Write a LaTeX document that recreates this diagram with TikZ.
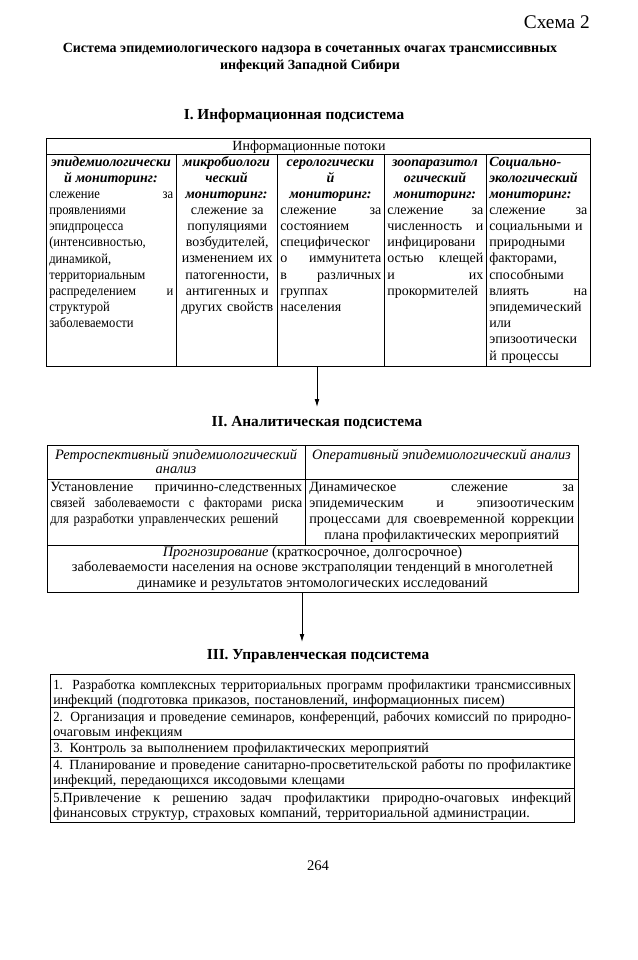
\documentclass[tikz,border=0pt]{standalone}
\usepackage{fontspec}
\setmainfont{Liberation Serif}
\newfontfamily\narrowfont{Liberation Serif}[FakeStretch=0.9]
\newfontfamily\tightfont{Liberation Serif}[FakeStretch=0.96]
\usetikzlibrary{arrows.meta}

\newcommand{\cellfont}{\fontsize{10.5}{12.15}\selectfont}
\newcommand{\jline}[1]{\leavevmode\hbox to\hsize{\spaceskip=0pt\xspaceskip=0pt\strut#1}}

\begin{document}
\begin{tikzpicture}[x=0.75pt, y=-0.75pt,
  frame/.style={line width=0.7pt},
  tablebox/.style={draw, line width=0.7pt, inner sep=0pt},
  arr/.style={-{Latex[length=6pt,width=3.6pt]}, line width=0.7pt},
  head/.style={anchor=base, inner sep=0pt, font=\fontsize{11.5}{14}\selectfont\bfseries},
  colhead/.style={anchor=north, inner sep=0pt, align=center, font=\cellfont\bfseries\itshape},
  cell/.style={anchor=north west, inner sep=0pt, align=left, font=\cellfont},
  rowcell/.style={anchor=north west, inner sep=0pt, align=left, text width=388.5pt, font=\fontsize{10.5}{11.25}\selectfont}
]
\useasboundingbox (0,0) rectangle (638,960);

\node[anchor=base east, inner sep=0pt, font=\fontsize{14.5}{17}\selectfont] (scheme) at (590,28) {Схема 2};
\node[anchor=north, inner sep=0pt, align=center, font=\fontsize{10.5}{12.75}\selectfont\bfseries] (title) at (310,40.1)
  {\strut Система эпидемиологического надзора в сочетанных очагах трансмиссивных\\инфекций Западной Сибири};

% I. information subsystem
\node[head] (h-info) at (294,119) {I. Информационная подсистема};
\node[tablebox, minimum width=408pt, minimum height=171pt] (info) at (318,252) {};
\draw[frame] (46,154) -- (590,154);
\foreach \x in {176,277,384,486}
  \draw[frame] (\x,154) -- (\x,366);
\node[anchor=base, inner sep=0pt, font=\cellfont] (flows) at (309,150) {Информационные потоки};

\node[colhead] (epi-h) at (111,154.7) {\strut эпидемиологически\\й мониторинг:};
\node[cell, text width=93pt, font=\cellfont\narrowfont] (epi-b) at (49,186.7)
  {\jline{слежение\hfill за}\\проявлениями\\эпидпроцесса\\(интенсивностью,\\динамикой,\\территориальным\\\jline{распределением\hfill и}\\структурой\\заболеваемости};

\node[colhead] (micro-h) at (226.5,154.7) {\strut микробиологи\\ческий\\мониторинг:};
\node[cell, align=center, text width=75.75pt] (micro-b) at (176.5,202.7)
  {\strut слежение за\\популяциями\\возбудителей,\\изменением их\\патогенности,\\антигенных и\\других свойств};

\node[colhead] (sero-h) at (330.5,154.7) {\strut серологически\\й\\мониторинг:};
\node[cell, text width=75.75pt] (sero-b) at (280,202.7)
  {\jline{слежение\hfill за}\\состоянием\\специфическог\\\jline{о\hfill иммунитета}\\\jline{в\hfill различных}\\группах\\населения};

\node[colhead] (zoo-h) at (435,154.7) {\strut зоопаразитол\\огический\\мониторинг:};
\node[cell, text width=72pt] (zoo-b) at (387,202.7)
  {\jline{слежение\hfill за}\\\jline{численность\hfill и}\\инфицировани\\\jline{остью\hfill клещей}\\\jline{и\hfill их}\\прокормителей};

\node[colhead, anchor=north west, align=left] (soc-h) at (489,154.7) {\strut Социально-\\экологический\\мониторинг:};
\node[cell, text width=73.5pt] (soc-b) at (489,202.7)
  {\jline{слежение\hfill за}\\социальными и\\природными\\факторами,\\способными\\\jline{влиять\hfill на}\\эпидемический\\или\\эпизоотически\\й процессы};

\coordinate (anal-in) at (317,407);
\draw[arr] (info.south -| anal-in) -- (anal-in);

% II. analytical subsystem
\node[head] (h-anal) at (317,426) {II. Аналитическая подсистема};
\node[tablebox, minimum width=398.25pt, minimum height=110.25pt] (anal) at (312.5,518.5) {};
\draw[frame] (47,479) -- (578,479);
\draw[frame] (47,545) -- (578,545);
\draw[frame] (305,445) -- (305,545);

\node[colhead, font=\fontsize{10.8}{10.5}\selectfont\itshape] (retro-h) at (176,449.2)
  {\strut Ретроспективный эпидемиологический\\анализ};
\node[colhead, font=\fontsize{10.8}{10.5}\selectfont\itshape] (oper-h) at (441.5,449.2)
  {\strut Оперативный эпидемиологический анализ};
\node[cell, text width=189pt, font=\fontsize{10.6}{12}\selectfont] (retro-b) at (50,479.8)
  {\jline{Установление\hfill причинно-следственных}\\{\narrowfont\jline{связей заболеваемости с факторами риска}\\для разработки управленческих решений}};
\node[cell, text width=198.75pt, font=\fontsize{10.6}{12}\selectfont] (oper-b) at (309,479.8)
  {\jline{Динамическое\hfill слежение\hfill за}\\\jline{эпидемическим\hfill и\hfill эпизоотическим}\\\jline{процессами для своевременной коррекции}\\\jline{\hfil плана профилактических мероприятий\hfil}};
\node[colhead, font=\fontsize{10.8}{11.6}\selectfont] (forecast) at (312.5,545.2)
  {\strut\textit{Прогнозирование} (краткосрочное, долгосрочное)\\заболеваемости населения на основе экстраполяции тенденций в многолетней\\динамике и результатов энтомологических исследований};

\coordinate (man-in) at (302,642);
\draw[arr] (anal.south -| man-in) -- (man-in);

% III. management subsystem
\node[head] (h-man) at (318,659) {III. Управленческая подсистема};
\node[tablebox, minimum width=393pt, minimum height=111pt] (man) at (312,748) {};
\foreach \y in {707,739,757,788}
  \draw[frame] (50,\y) -- (574,\y);

\node[rowcell] (task1) at (53,678.5)
  {\jline{\tightfont{\narrowfont 1.} Разработка комплексных территориальных программ профилактики трансмиссивных}\\инфекций (подготовка приказов, постановлений, информационных писем)};
\node[rowcell] (task2) at (53,710.5)
  {\jline{\tightfont{\narrowfont 2.} Организация и проведение семинаров, конференций, рабочих комиссий по природно-}\\очаговым инфекциям};
\node[rowcell] (task3) at (53,741.5)
  {\strut{\narrowfont 3.} Контроль за выполнением профилактических мероприятий};
\node[rowcell] (task4) at (53,758.5)
  {\jline{{\narrowfont 4.} Планирование и проведение санитарно-просветительской работы по профилактике}\\инфекций, передающихся иксодовыми клещами};
\node[rowcell] (task5) at (53,791.5)
  {\jline{{\narrowfont 5.}Привлечение к решению задач профилактики природно-очаговых инфекций}\\финансовых структур, страховых компаний, территориальной администрации.};

\node[anchor=base, inner sep=0pt, font=\fontsize{11}{13}\selectfont] (pagenum) at (318,870) {264};
\end{tikzpicture}
\end{document}
